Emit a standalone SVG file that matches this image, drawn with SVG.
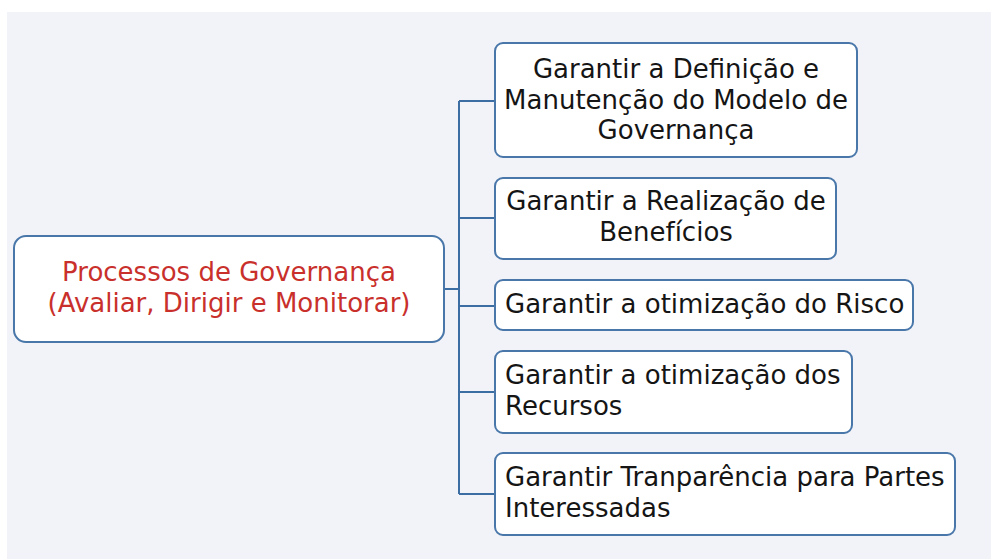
<svg xmlns="http://www.w3.org/2000/svg" width="991" height="559" viewBox="0 0 991 559">
<style>
.box{fill:#ffffff;stroke:#4a77aa;stroke-width:2}
.t{font-family:"DejaVu Sans",Verdana,sans-serif;font-size:26px;fill:#151515}
.r{fill:#c9302c}
.c{text-anchor:middle}
.ln{stroke:#3d6ea3;stroke-width:2;fill:none}
</style>
<rect x="0" y="0" width="991" height="559" fill="#ffffff"/>
<rect x="7" y="12" width="984" height="547" fill="#f2f3f8"/>
<g id="connectors">
<path class="ln" d="M444 289H459M459 101V494M459 101H495M459 218H495M459 306H495M459 392H495M459 494H495"/>
</g>
<g id="root">
<rect class="box" x="14" y="236" width="430" height="106" rx="12"/>
<text class="t r c" x="229" y="281">Processos de Governança</text>
<text class="t r c" x="229" y="312">(Avaliar, Dirigir e Monitorar)</text>
</g>
<g id="n1">
<rect class="box" x="495" y="43" width="362" height="114" rx="8"/>
<text class="t c" x="676" y="78">Garantir a Definição e</text>
<text class="t c" x="676" y="109">Manutenção do Modelo de</text>
<text class="t c" x="676" y="139">Governança</text>
</g>
<g id="n2">
<rect class="box" x="495" y="178" width="341" height="81" rx="8"/>
<text class="t c" x="666" y="210">Garantir a Realização de</text>
<text class="t c" x="666" y="241">Benefícios</text>
</g>
<g id="n3">
<rect class="box" x="495" y="280" width="418" height="50" rx="8"/>
<text class="t" x="505" y="313">Garantir a otimização do Risco</text>
</g>
<g id="n4">
<rect class="box" x="495" y="351" width="357" height="82" rx="8"/>
<text class="t" x="505" y="384">Garantir a otimização dos</text>
<text class="t" x="505" y="415">Recursos</text>
</g>
<g id="n5">
<rect class="box" x="495" y="453" width="460" height="82" rx="8"/>
<text class="t" x="505" y="486">Garantir Tranparência para Partes</text>
<text class="t" x="505" y="517">Interessadas</text>
</g>
</svg>
